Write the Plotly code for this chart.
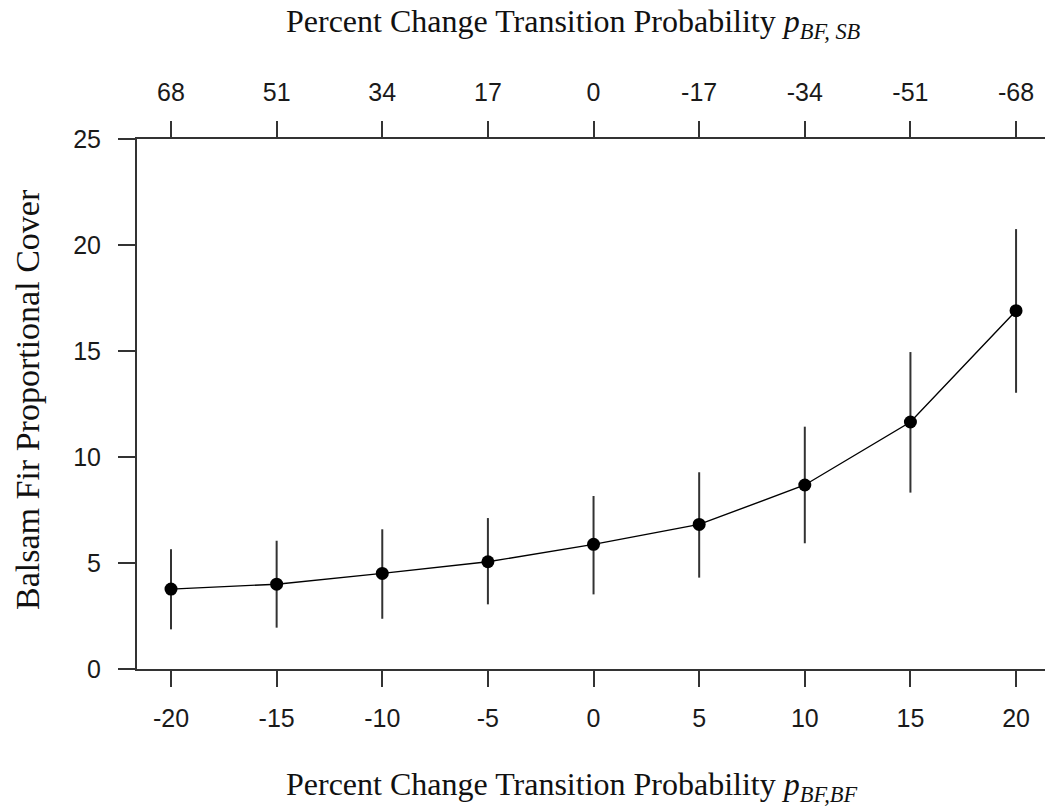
import plotly.graph_objects as go

# Percent change in p(BF,BF) and the matching percent change in p(BF,SB)
pct_bf_bf = [-20, -15, -10, -5, 0, 5, 10, 15, 20]
pct_bf_sb_labels = ["68", "51", "34", "17", "0", "-17", "-34", "-51", "-68"]

# Balsam fir proportional cover: mean with lower / upper interval bounds
cover_mean = [3.77, 4.00, 4.51, 5.06, 5.88, 6.82, 8.68, 11.65, 16.90]
cover_upper = [5.65, 6.05, 6.59, 7.12, 8.16, 9.28, 11.43, 14.95, 20.75]
cover_lower = [1.87, 1.95, 2.37, 3.05, 3.52, 4.31, 5.93, 8.32, 13.03]

y_ticks = [0, 5, 10, 15, 20, 25]

err_plus = [u - m for u, m in zip(cover_upper, cover_mean)]
err_minus = [m - l for m, l in zip(cover_mean, cover_lower)]

W, H = 1045, 808
ML, MT, MB = 137, 139, 139
plot_w = W - ML
plot_h = H - MT - MB

x_range = [-21.61, 21.37]
axis_col = "#333333"
tick_font = dict(family="Liberation Sans, Arial, sans-serif", size=25, color="#1a1a1a")
serif = "Liberation Serif, Times New Roman, serif"
xtitle_font = dict(family=serif, size=32, color="#111111")
ytitle_font = dict(family=serif, size=34, color="#111111")

fig = go.Figure()
fig.add_trace(go.Scatter(
    x=pct_bf_bf,
    y=cover_mean,
    mode="lines+markers",
    line=dict(color="black", width=1.4),
    marker=dict(color="black", size=13),
    error_y=dict(
        type="data",
        symmetric=False,
        array=err_plus,
        arrayminus=err_minus,
        color=axis_col,
        thickness=2,
        width=0,
    ),
    showlegend=False,
))

# transparent copy of the series so the top axis gets drawn
fig.add_trace(go.Scatter(
    x=pct_bf_bf, y=cover_mean, xaxis="x2", mode="markers",
    marker=dict(opacity=0), showlegend=False, hoverinfo="skip",
))

common_axis = dict(
    showgrid=False,
    zeroline=False,
    showline=True,
    linecolor=axis_col,
    linewidth=2,
    ticks="outside",
    tickwidth=2,
    tickcolor=axis_col,
    tickfont=tick_font,
)

fig.update_layout(
    width=W,
    height=H,
    margin=dict(l=ML, r=0, t=MT, b=MB),
    paper_bgcolor="white",
    plot_bgcolor="white",
    xaxis=dict(
        range=x_range,
        tickvals=pct_bf_bf,
        ticktext=[str(v) for v in pct_bf_bf],
        ticklen=16,
        ticklabelstandoff=10,
        **common_axis,
    ),
    xaxis2=dict(
        range=x_range,
        overlaying="x",
        side="top",
        tickvals=pct_bf_bf,
        ticktext=pct_bf_sb_labels,
        ticklen=16,
        ticklabelstandoff=10,
        **common_axis,
    ),
    yaxis=dict(
        range=[0, 25],
        tickvals=y_ticks,
        ticklen=17,
        ticklabelstandoff=12,
        **common_axis,
    ),
)


def px_to_paper_x(px):
    return (px - ML) / plot_w


def px_to_paper_y(py):
    return (H - MB - py) / plot_h


fig.add_annotation(
    text="Percent Change Transition Probability <i>p</i><sub><i>BF, SB</i></sub>",
    xref="paper", yref="paper",
    x=px_to_paper_x(284), y=px_to_paper_y(24),
    xanchor="left", yanchor="middle",
    showarrow=False, font=xtitle_font,
)
fig.add_annotation(
    text="Percent Change Transition Probability <i>p</i><sub><i>BF,BF</i></sub>",
    xref="paper", yref="paper",
    x=px_to_paper_x(284), y=px_to_paper_y(786),
    xanchor="left", yanchor="middle",
    showarrow=False, font=xtitle_font,
)
fig.add_annotation(
    text="Balsam Fir Proportional Cover",
    xref="paper", yref="paper",
    x=px_to_paper_x(27), y=px_to_paper_y(400),
    xanchor="center", yanchor="middle",
    textangle=-90,
    showarrow=False, font=ytitle_font,
)

fig.write_html("out.html")
